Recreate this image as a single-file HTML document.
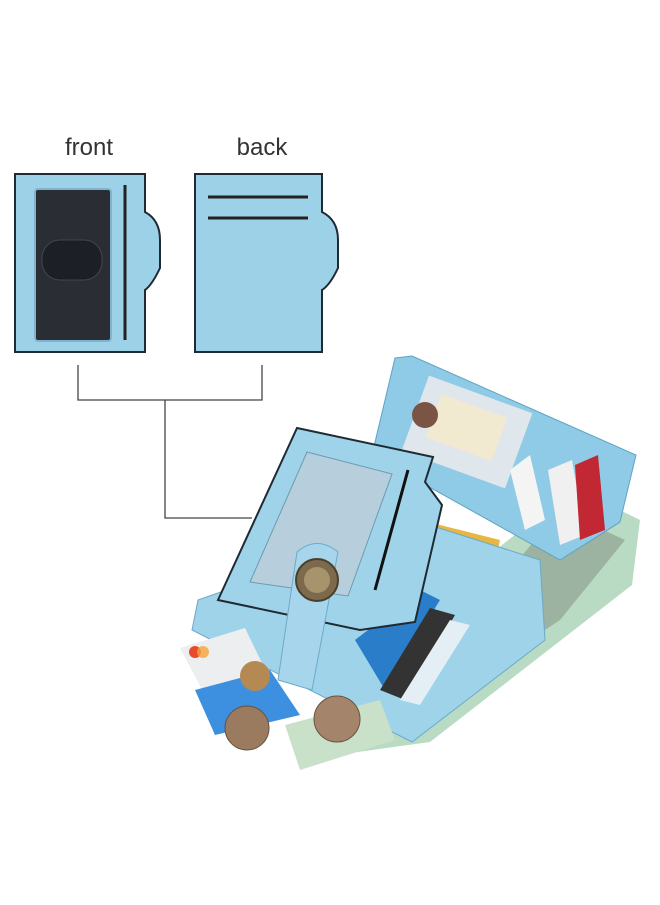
<!DOCTYPE html>
<html><head><style>
html,body{margin:0;padding:0;background:#fff;}
body{width:660px;height:900px;overflow:hidden;font-family:"Liberation Sans",sans-serif;}
</style></head><body>
<svg width="660" height="900" viewBox="0 0 660 900" xmlns="http://www.w3.org/2000/svg">
<text x="89" y="155" font-size="24" text-anchor="middle" fill="#333" font-family="Liberation Sans">front</text>
<text x="262" y="155" font-size="24" text-anchor="middle" fill="#333" font-family="Liberation Sans">back</text>
<!-- front card -->
<path d="M15,174 H145 V212 Q160,220 160,240 V268 Q152,285 145,290 V352 H15 Z" fill="#9dd1e8" stroke="#1f2a33" stroke-width="2"/>
<rect x="35" y="189" width="76" height="152" rx="3" fill="#2b2d35" stroke="#7fb4cc" stroke-width="2"/>
<rect x="42" y="240" width="60" height="40" rx="18" fill="#1d1f26" stroke="#44464f"/>
<line x1="125" y1="185" x2="125" y2="340" stroke="#222" stroke-width="3"/>
<!-- back card -->
<path d="M195,174 H322 V212 Q338,220 338,240 V268 Q330,285 322,290 V352 H195 Z" fill="#9dd1e8" stroke="#1f2a33" stroke-width="2"/>
<line x1="208" y1="197" x2="308" y2="197" stroke="#222" stroke-width="3"/>
<line x1="208" y1="218" x2="308" y2="218" stroke="#222" stroke-width="3"/>
<!-- connectors -->
<path d="M78,365 V400 H262 V365 M165,400 V518 H252" fill="none" stroke="#444" stroke-width="1.3"/>
<!-- money stack -->
<path d="M575,488 L640,520 L632,585 L430,742 L300,760 L330,700 L380,640 Z" fill="#b9dbc4"/>
<path d="M560,510 L625,540 L560,620 L440,700 L410,690 Z" fill="#8fa291" opacity="0.7"/>
<!-- back panel of wallet -->
<path d="M395,358 L412,356 L636,455 L620,522 L560,560 L372,455 Z" fill="#8fcbe6" stroke="#5fa2c2"/>
<rect x="412" y="392" width="110" height="80" fill="#dfe7ec" transform="rotate(20 467 432)"/>
<rect x="430" y="405" width="70" height="46" fill="#f2ead0" transform="rotate(20 467 432)"/>
<circle cx="425" cy="415" r="13" fill="#7a5545"/>
<path d="M510,470 L530,455 L545,520 L525,530 Z" fill="#f4f4f4"/>
<path d="M548,470 L572,460 L585,535 L560,545 Z" fill="#f0f0f0"/>
<path d="M575,465 L598,455 L605,530 L580,540 Z" fill="#c22833"/>
<path d="M420,520 L500,540 L495,565 L415,545 Z" fill="#e8b742"/>
<!-- lower front panel -->
<path d="M198,600 L420,522 L540,560 L545,640 L412,742 L192,630 Z" fill="#9fd3ea" stroke="#6aaacb"/>
<path d="M355,640 L420,590 L440,600 L385,690 Z" fill="#2a7ec9"/>
<path d="M380,690 L430,608 L455,615 L405,700 Z" fill="#333"/>
<path d="M400,700 L450,620 L470,625 L420,705 Z" fill="#e4eef5"/>
<!-- cards and coins bottom left -->
<path d="M180,648 L245,628 L275,690 L210,705 Z" fill="#eceef0"/>
<circle cx="195" cy="652" r="6" fill="#e64b2f"/><circle cx="203" cy="652" r="6" fill="#f5a23a" opacity="0.8"/>
<path d="M195,690 L270,670 L300,715 L215,735 Z" fill="#3d8fe0"/>
<path d="M285,725 L380,700 L395,740 L300,770 Z" fill="#c9e0c9"/>
<circle cx="255" cy="676" r="15" fill="#b58a52"/>
<circle cx="247" cy="728" r="22" fill="#9a7b5f" stroke="#6b5340"/>
<circle cx="337" cy="719" r="23" fill="#a4846a" stroke="#6b5340"/>
<!-- tilted front card -->
<path d="M297,428 L433,457 L425,482 L442,505 L415,622 L360,630 L218,600 Z" fill="#9fd3ea" stroke="#1f2a33" stroke-width="2"/>
<path d="M307,452 L392,474 L348,596 L250,582 Z" fill="#b7cfdc" stroke="#6e9ab0"/>
<line x1="408" y1="470" x2="375" y2="590" stroke="#111" stroke-width="3"/>
<!-- strap and snap -->
<path d="M297,552 Q317,535 338,552 L312,690 L278,680 Z" fill="#a7d6ec" stroke="#6aaacb"/>
<circle cx="317" cy="580" r="21" fill="#7d6a4c" stroke="#4a3e2c" stroke-width="2"/>
<circle cx="317" cy="580" r="13" fill="#a8946c"/>
</svg>
</body></html>
